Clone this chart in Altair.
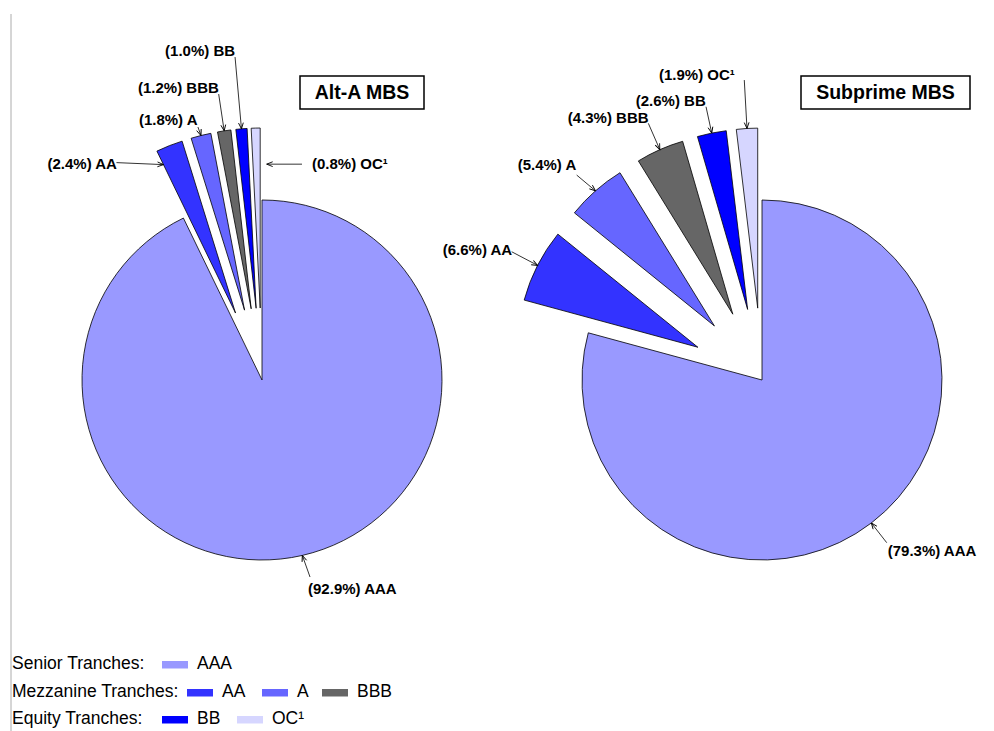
import altair as alt
import pandas as pd

# ---------------- data ----------------
tranches = ["AAA", "AA", "A", "BBB", "BB", "OC¹"]
alt_a_pct = [92.9, 2.4, 1.8, 1.2, 1.0, 0.8]
subprime_pct = [79.3, 6.6, 5.4, 4.3, 2.6, 1.9]
pie_titles = ["Alt-A MBS", "Subprime MBS"]
legend_groups = ["Senior Tranches:", "Mezzanine Tranches:", "Equity Tranches:"]
tranche_group = [0, 1, 1, 1, 2, 2]

# ---------------- styles / layout ----------------
colors = ["#9999FF", "#3333FF", "#6666FF", "#666666", "#0000FF", "#D6D6FF"]
pie_cx = [262, 762]
pie_cy = 380
R = 180
explode = [0, 72, 72, 72, 72, 72]
# per label: tip angle fraction within slice, tip radius, label dx/dy, arrow start dx/dy (relative to tip)
label_layout = [
    [(0.5, 180, 5.7, 33.6, 7.7, 21.6),
     (0.0, 165, -116, -1.0, -47, -2),
     (0.5, 180, -62, -15.5, -3, -8.5),
     (0.5, 180, -86.2, -42.8, -5.5, -36.8),
     (0.5, 180, -76.4, -77.8, -6.4, -71.8),
     (1.9, 144, 45.3, -0.3, 35.3, 0)],
    [(0.5, 180, 16.4, 27.7, 15.4, 19.7),
     (0.5, 180, -94.9, -15.3, -25.9, -13.6),
     (0.5, 180, -77.8, -25.8, -18.8, -15.8),
     (0.5, 180, -92.1, -31.6, -11.5, -26.3),
     (0.5, 180, -76, -32.3, -5.7, -26.3),
     (0.5, 180, -88, -53.4, -2.7, -48.4)],
]
title_box = [(300, 424, 76, 109), (801, 970, 76, 109)]
legend_row_y = [664, 692, 719]
legend_swatch_x = [162, 187, 262, 322, 162, 237]
FONT = "Liberation Sans"

rows = []
for p, vals in enumerate([alt_a_pct, subprime_pct]):
    for i, (t, v) in enumerate(zip(tranches, vals)):
        tf, tr, ldx, ldy, sdx, sdy = label_layout[p][i]
        rows.append(dict(pie=pie_titles[p], order=i, tranche=t, value=v,
                         pcx=pie_cx[p], pcy=pie_cy, explode=explode[i],
                         tip_frac=tf, tip_r=tr, ldx=ldx, ldy=ldy, sdx=sdx, sdy=sdy))
slices = pd.DataFrame(rows)

base = (
    alt.Chart(slices)
    .transform_window(cum="sum(value)", sort=[alt.SortField("order")],
                      groupby=["pie"], frame=[None, 0])
    .transform_joinaggregate(total="sum(value)", groupby=["pie"])
    .transform_calculate(t0="2*PI*(datum.cum - datum.value)/datum.total")
    .transform_calculate(t1="2*PI*datum.cum/datum.total")
    .transform_calculate(tm="(datum.t0 + datum.t1)/2")
    .transform_calculate(ta="datum.t0 + datum.tip_frac*(datum.t1 - datum.t0)")
    .transform_calculate(ox="datum.pcx + datum.explode*sin(datum.tm)")
    .transform_calculate(oy="datum.pcy - datum.explode*cos(datum.tm)")
    .transform_calculate(tipx="datum.ox + datum.tip_r*sin(datum.ta)")
    .transform_calculate(tipy="datum.oy - datum.tip_r*cos(datum.ta)")
    .transform_calculate(lx="datum.tipx + datum.ldx")
    .transform_calculate(ly="datum.tipy + datum.ldy")
    .transform_calculate(sx="datum.tipx + datum.sdx")
    .transform_calculate(sy="datum.tipy + datum.sdy")
    .transform_calculate(label="'(' + format(datum.value, '.1f') + '%) ' + datum.tranche")
    .transform_calculate(
        head="(atan2(datum.tipx - datum.sx, datum.sy - datum.tipy)*180/PI + 360) % 360")
)

def px(f):
    return alt.X(f + ":Q", scale=None, axis=None)

def py(f):
    return alt.Y(f + ":Q", scale=None, axis=None)

color_scale = alt.Scale(domain=tranches, range=colors)

arcs = base.mark_arc(stroke="black", strokeWidth=0.8).encode(
    x=px("ox"), y=py("oy"),
    theta=alt.Theta("t0:Q", scale=None), theta2="t1:Q",
    radius=alt.value(R),
    color=alt.Color("tranche:N", scale=color_scale, legend=None),
)

leaders = base.mark_rule(color="black", strokeWidth=0.8).encode(
    x=px("sx"), y=py("sy"), x2="tipx:Q", y2="tipy:Q")

heads = base.mark_point(shape="M-0.6,1.5L0,0L0.6,1.5", filled=False, stroke="black",
                        strokeWidth=0.9, size=64, opacity=1).encode(
    x=px("tipx"), y=py("tipy"), angle=alt.Angle("head:Q", scale=None))

labels = base.mark_text(align="left", baseline="middle", font=FONT, fontSize=15,
                        fontWeight="bold", color="black").encode(
    x=px("lx"), y=py("ly"), text="label:N")

# title boxes
tdf = pd.DataFrame({
    "title": pie_titles,
    "x0": [b[0] for b in title_box], "x1": [b[1] for b in title_box],
    "y0": [b[2] for b in title_box], "y1": [b[3] for b in title_box],
})
tbase = alt.Chart(tdf).transform_calculate(cx="(datum.x0 + datum.x1)/2",
                                           cy="(datum.y0 + datum.y1)/2")
boxes = tbase.mark_rect(fill="white", stroke="black", strokeWidth=1.5).encode(
    x=px("x0"), x2="x1:Q", y=py("y0"), y2="y1:Q")
titles = tbase.mark_text(align="center", baseline="middle", font=FONT, fontSize=19.5,
                         fontWeight="bold", color="black").encode(
    x=px("cx"), y=py("cy"), text="title:N")

# legend
ldf = pd.DataFrame({
    "tranche": tranches,
    "sx": legend_swatch_x,
    "ry": [legend_row_y[g] for g in tranche_group],
})
lbase = alt.Chart(ldf).transform_calculate(
    sx2="datum.sx + 26", sy0="datum.ry - 3", sy1="datum.ry + 4.5", tx="datum.sx + 35")
swatches = lbase.mark_rect().encode(
    x=px("sx"), x2="sx2:Q", y=py("sy0"), y2="sy1:Q",
    color=alt.Color("tranche:N", scale=color_scale, legend=None))
swatch_text = lbase.mark_text(align="left", baseline="middle", font=FONT, fontSize=17.5,
                              color="black").encode(
    x=px("tx"), y=py("ry"), text="tranche:N")
gdf = pd.DataFrame({"group": legend_groups, "ry": legend_row_y})
group_text = alt.Chart(gdf).mark_text(align="left", baseline="middle", font=FONT,
                                      fontSize=17.5, color="black").encode(
    x=alt.value(12), y=py("ry"), text="group:N")

border = alt.Chart(gdf).mark_rule(color="#d0d0d0", strokeWidth=1).encode(
    x=alt.value(11), y=alt.value(14), y2=alt.value(731))

chart = alt.layer(
    border, arcs, leaders, heads, labels, boxes, titles, swatches, swatch_text, group_text
).properties(
    width=994, height=731, padding=0, autosize=alt.AutoSizeParams(type="none")
).configure_view(strokeWidth=0)

chart.save("out.html", embed_options={"renderer": "svg", "actions": False})
